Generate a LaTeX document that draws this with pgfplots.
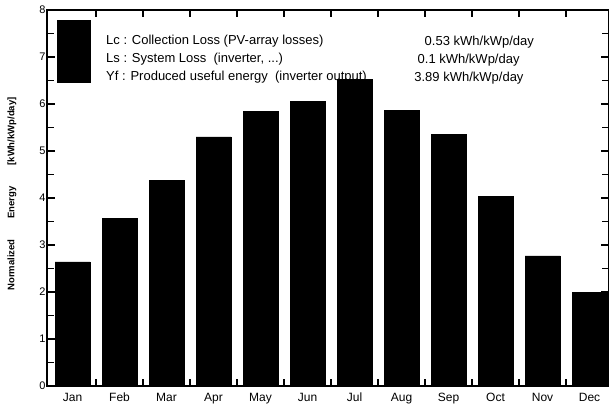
\documentclass[border=0pt]{standalone}
\usepackage{fontspec}
\setmainfont{Liberation Sans}
\usepackage{pgfplots}
\pgfplotsset{compat=1.18}
\begin{document}
\begin{tikzpicture}[x=1pt,y=1pt]
\useasboundingbox (0,0) rectangle (609,409);
\begin{axis}[
  at={(47pt,23pt)}, anchor=south west,
  scale only axis, width=562pt, height=376pt,
  xmin=-0.543, xmax=11.415, ymin=0, ymax=8,
  axis line style={line width=1.6pt},
  xtick={0,...,11},
  xticklabels={Jan,Feb,Mar,Apr,May,Jun,Jul,Aug,Sep,Oct,Nov,Dec},
  major x tick style={draw=none},
  minor xtick={0.5,1.5,...,10.5},
  minor x tick style={line width=1.3pt, black},
  ytick={0,...,8},
  minor ytick={0.5,1.5,...,7.5},
  major y tick style={line width=1.3pt, black},
  minor y tick style={line width=1.1pt, black},
  major tick length=8pt, minor tick length=7pt,
  tick align=inside,
  xticklabel style={font=\fontsize{12}{14}\selectfont, text height=9pt, text depth=3pt, yshift=-3pt},
  yticklabel style={font=\fontsize{11}{13}\selectfont, xshift=2pt},
  /pgf/number format/assume math mode=true,
]
\addplot[ybar, bar width=35pt, fill=black, draw=black, bar shift=0pt]
coordinates {(0,2.64) (1,3.57) (2,4.38) (3,5.30) (4,5.85) (5,6.05) (6,6.53) (7,5.86) (8,5.36) (9,4.03) (10,2.77) (11,2.00)};
\fill[black] (axis cs:-0.33,7.79) rectangle (axis cs:0.394,6.45);
\begin{scope}[every node/.style={font=\fontsize{13}{15}\selectfont, anchor=west, inner sep=0pt}]
\node at (axis cs:0.713,7.34) {Lc : Collection Loss (PV-array losses)};
\node at (axis cs:0.713,6.96) {Ls : System Loss\ \ (inverter, ...)};
\node at (axis cs:0.713,6.57) {Yf : Produced useful energy\ \ (inverter output)};
\node at (axis cs:7.49,7.31) {0.53 kWh/kWp/day};
\node at (axis cs:7.34,6.93) {0.1 kWh/kWp/day};
\node at (axis cs:7.27,6.55) {3.89 kWh/kWp/day};
\end{scope}
\end{axis}
\node[rotate=90, font=\bfseries\fontsize{9.5}{11}\selectfont] at (12,215) {Normalized\hspace{2.2em}Energy\hspace{2.2em}[kWh/kWp/day]};
\end{tikzpicture}
\end{document}
